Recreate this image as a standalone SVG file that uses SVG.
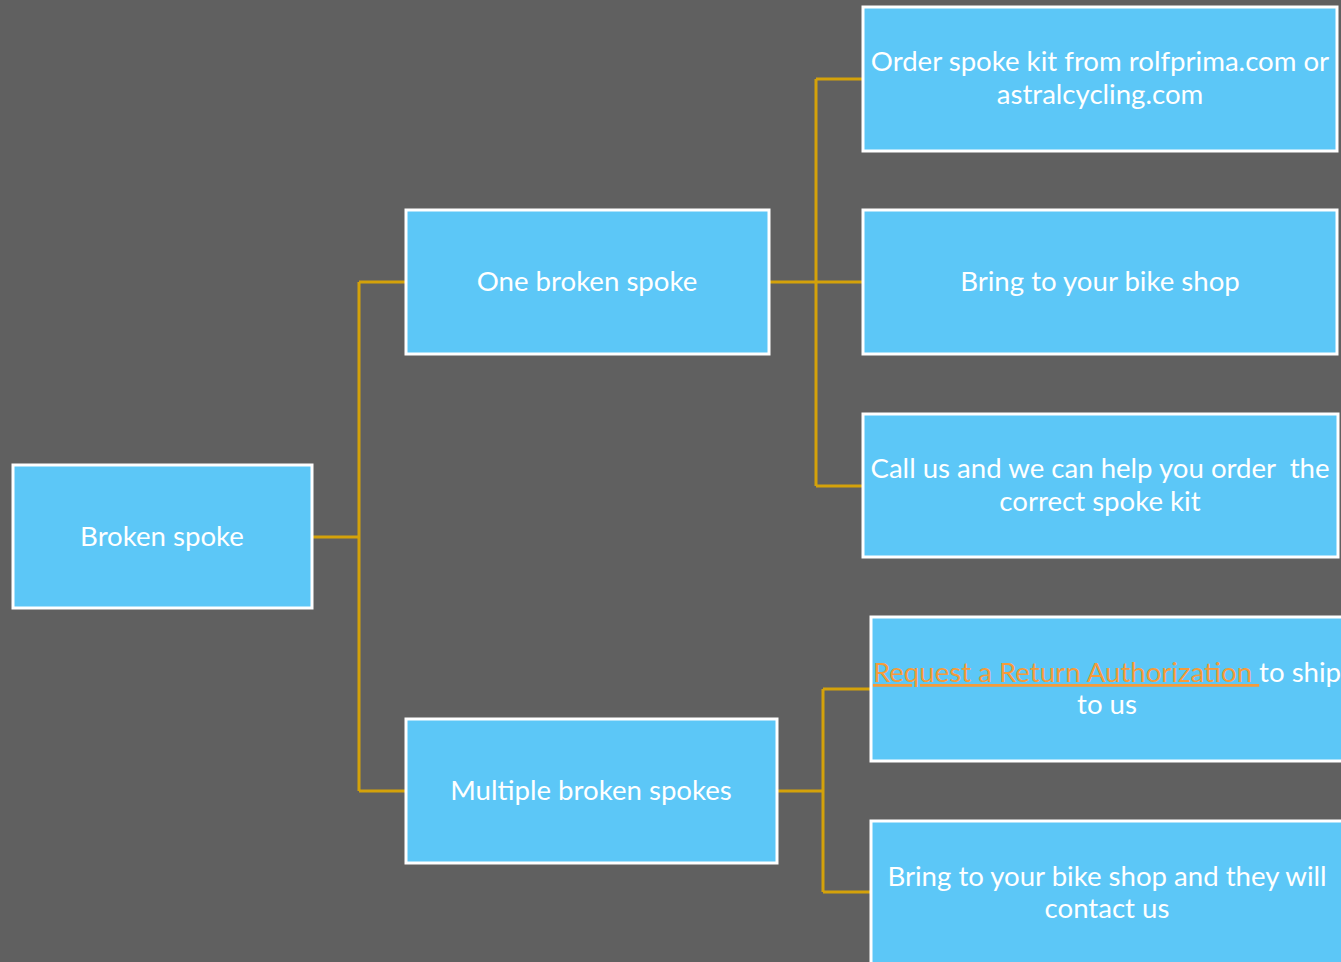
<svg xmlns="http://www.w3.org/2000/svg" width="1341" height="962" viewBox="0 0 1341 962">
<style>
.box{fill:#5CC7F7;stroke:#FFFFFF;stroke-width:3}
.t{font-family:Lato,"Open Sans","Liberation Sans",sans-serif;font-size:27.6px;fill:#FFFFFF;text-anchor:middle;white-space:pre}
.link{fill:#F59B3A;text-decoration:underline}
.c{stroke:#D4A20A;stroke-width:3;fill:none}
</style>
<rect x="0" y="0" width="1341" height="962" fill="#606060"/>
<g id="connectors">
<path class="c" d="M312 537H359M359 282V791M359 282H406M359 791H406"/>
<path class="c" d="M769 282H863M816 79V486M816 79H863M816 486H863"/>
<path class="c" d="M777 791H823M823 689V892M823 689H871M823 892H871"/>
</g>
<g id="n-root"><rect class="box" x="13" y="465" width="299" height="143"/><text class="t" x="162" y="546">Broken spoke</text></g>
<g id="n-one"><rect class="box" x="406" y="210" width="363" height="144"/><text class="t" x="587" y="291">One broken spoke</text></g>
<g id="n-multi"><rect class="box" x="406" y="719" width="371" height="144"/><text class="t" x="591" y="800">Multiple broken spokes</text></g>
<g id="n-order"><rect class="box" x="863" y="7" width="474" height="144"/><text class="t" x="1100" y="71">Order spoke kit from rolfprima.com or</text><text class="t" x="1100" y="104">astralcycling.com</text></g>
<g id="n-shop"><rect class="box" x="863" y="210" width="474" height="144"/><text class="t" x="1100" y="291">Bring to your bike shop</text></g>
<g id="n-call"><rect class="box" x="863" y="414" width="475" height="143"/><text class="t" x="1100" y="478" xml:space="preserve">Call us and we can help you order  the</text><text class="t" x="1100" y="511">correct spoke kit</text></g>
<g id="n-ra"><rect class="box" x="871" y="617" width="480" height="144"/><text class="t" x="1107" y="682"><tspan class="link">Request a Return Authorization </tspan>to ship</text><text class="t" x="1107" y="714">to us</text></g>
<g id="n-shop2"><rect class="box" x="871" y="821" width="480" height="150"/><text class="t" x="1107" y="886">Bring to your bike shop and they will</text><text class="t" x="1107" y="918">contact us</text></g>
</svg>
